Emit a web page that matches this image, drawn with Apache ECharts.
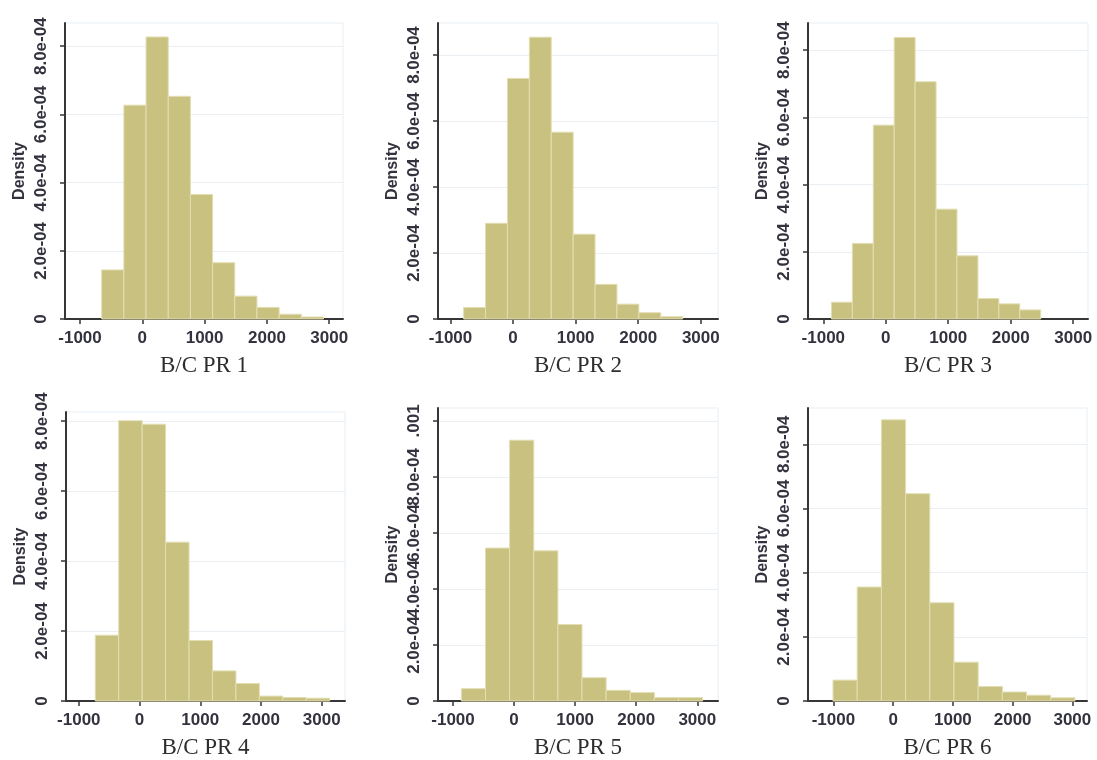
<!DOCTYPE html>
<html>
<head>
<meta charset="utf-8">
<script src="https://cdn.jsdelivr.net/npm/echarts@6/dist/echarts.min.js"></script>
<style>
  html, body { margin: 0; padding: 0; background: #ffffff; }
  #chart { width: 1097px; height: 760px; }
</style>
</head>
<body>
<div id="chart"></div>
<script>
// ---- Data ----
const panelTitles = ['B/C PR 1', 'B/C PR 2', 'B/C PR 3', 'B/C PR 4', 'B/C PR 5', 'B/C PR 6'];
const yAxisTitle = 'Density';

// histogram bin start (lower edge of first bin) and bin width, per panel
const binStart = [-652, -790, -870, -729, -863, -1007];
const binWidth = [356, 350, 335, 386, 395, 405];

// bar heights (density) per panel
const density1 = [1.44e-4, 6.27e-4, 8.27e-4, 6.53e-4, 3.65e-4, 1.65e-4, 0.67e-4, 0.34e-4, 0.14e-4, 0.06e-4];
const density2 = [0.35e-4, 2.90e-4, 7.29e-4, 8.54e-4, 5.66e-4, 2.57e-4, 1.05e-4, 0.45e-4, 0.19e-4, 0.07e-4];
const density3 = [0.50e-4, 2.25e-4, 5.77e-4, 8.38e-4, 7.06e-4, 3.27e-4, 1.88e-4, 0.61e-4, 0.45e-4, 0.27e-4];
const density4 = [1.88e-4, 8.01e-4, 7.91e-4, 4.54e-4, 1.73e-4, 0.86e-4, 0.50e-4, 0.14e-4, 0.10e-4, 0.08e-4];
const density5 = [0.44e-4, 5.46e-4, 9.31e-4, 5.36e-4, 2.73e-4, 0.83e-4, 0.38e-4, 0.30e-4, 0.12e-4, 0.12e-4];
const density6 = [0.65e-4, 3.55e-4, 8.76e-4, 6.46e-4, 3.06e-4, 1.21e-4, 0.45e-4, 0.28e-4, 0.18e-4, 0.10e-4];
const densities = [density1, density2, density3, density4, density5, density6];

// tick values and labels
const xTicks = [-1000, 0, 1000, 2000, 3000];
const yTicksStd = [0, 0.0002, 0.0004, 0.0006, 0.0008];
const yTicksPR5 = [0, 0.0002, 0.0004, 0.0006, 0.0008, 0.001];
const yTickLabels = { 0: '0', 0.0002: '2.0e-04', 0.0004: '4.0e-04', 0.0006: '6.0e-04', 0.0008: '8.0e-04', 0.001: '.001' };
const yTicksPerPanel = [yTicksStd, yTicksStd, yTicksStd, yTicksStd, yTicksPR5, yTicksStd];

// ---- Layout (pixel positions of each plot region & visible axis ranges) ----
const layout = [
  { left: 65,  top: 23,  width: 278, height: 296, xMin: -1241, xMax: 3221, yMax: 8.68e-4 },
  { left: 438, top: 23,  width: 280, height: 296, xMin: -1200, xMax: 3275, yMax: 8.97e-4 },
  { left: 808, top: 23,  width: 280, height: 296, xMin: -1245, xMax: 3237, yMax: 8.81e-4 },
  { left: 66,  top: 412, width: 279, height: 290, xMin: -1211, xMax: 3383, yMax: 8.26e-4 },
  { left: 438, top: 408, width: 280, height: 294, xMin: -1246, xMax: 3339, yMax: 10.46e-4 },
  { left: 808, top: 408, width: 279, height: 294, xMin: -1426, xMax: 3245, yMax: 9.13e-4 }
];

const barFill = '#c9c17f';
const barEdge = '#e2deb2';
const axisColor = '#363636';
const textColor = '#33333f';
const gridLineColor = '#e9eff3';

const grids = [], xAxes = [], yAxes = [], series = [];
layout.forEach(function (L, i) {
  grids.push({
    left: L.left, top: L.top, width: L.width, height: L.height,
    show: true, borderColor: gridLineColor, borderWidth: 1, backgroundColor: 'transparent'
  });
  xAxes.push({
    type: 'value', gridIndex: i, min: L.xMin, max: L.xMax,
    name: panelTitles[i], nameLocation: 'middle', nameGap: 35,
    nameTextStyle: { fontFamily: 'Liberation Serif', fontSize: 23, color: '#2e2e2e' },
    axisLine: { show: true, onZero: false, lineStyle: { color: axisColor, width: 2 } },
    axisTick: { show: true, length: 5, lineStyle: { color: axisColor, width: 1.5 }, customValues: xTicks },
    axisLabel: { show: true, margin: 11, customValues: xTicks, fontFamily: 'Liberation Sans', fontSize: 17, fontWeight: 'bold', color: textColor,
                 formatter: function (v) { return String(v); } },
    splitLine: { show: false }
  });
  const yt = yTicksPerPanel[i];
  yAxes.push({
    type: 'value', gridIndex: i, min: 0, max: L.yMax,
    name: yAxisTitle, nameLocation: 'middle', nameGap: 37,
    nameTextStyle: { fontFamily: 'Liberation Sans', fontSize: 16, fontWeight: 'bold', color: textColor },
    axisLine: { show: true, onZero: false, lineStyle: { color: axisColor, width: 2 } },
    axisTick: { show: true, length: 5, lineStyle: { color: axisColor, width: 1.5 }, customValues: yt },
    axisLabel: { show: true, rotate: 90, margin: 15, customValues: yt, fontFamily: 'Liberation Sans', fontSize: 17, fontWeight: 'bold', color: textColor,
                 formatter: function (v) {
                   const key = Math.round(v * 1e4) / 1e4;
                   return yTickLabels[key] !== undefined ? yTickLabels[key] : String(v);
                 } },
    splitLine: { show: true, lineStyle: { color: gridLineColor, width: 1 } }
  });
  const dens = densities[i];
  const data = dens.map(function (h, k) {
    return [binStart[i] + k * binWidth[i], binStart[i] + (k + 1) * binWidth[i], h];
  });
  series.push({
    type: 'custom', xAxisIndex: i, yAxisIndex: i, data: data,
    encode: { x: [0, 1], y: 2 },
    renderItem: function (params, api) {
      const p0 = api.coord([api.value(0), 0]);
      const p1 = api.coord([api.value(1), api.value(2)]);
      return {
        type: 'rect',
        shape: { x: p0[0], y: p1[1], width: p1[0] - p0[0], height: p0[1] - p1[1] },
        style: { fill: barFill, stroke: barEdge, lineWidth: 1 }
      };
    }
  });
});

const chart = echarts.init(document.getElementById('chart'), null, { renderer: 'canvas' });
chart.setOption({
  animation: false,
  backgroundColor: '#ffffff',
  grid: grids,
  xAxis: xAxes,
  yAxis: yAxes,
  series: series
});
</script>
</body>
</html>
